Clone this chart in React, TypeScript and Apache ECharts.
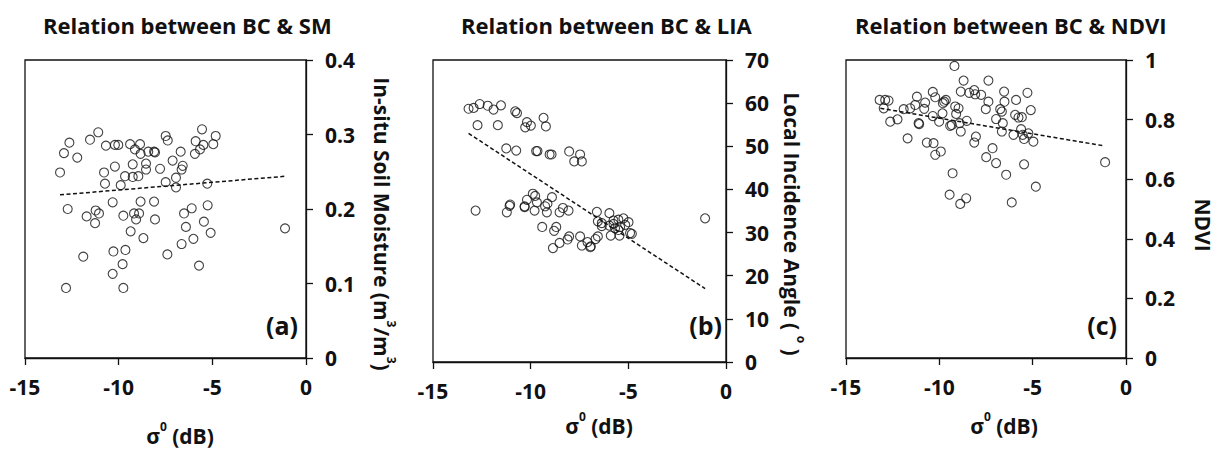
import React, { useEffect, useRef } from "react";
import * as echarts from "echarts";

const FONT = "'Open Sans', 'Noto Sans', sans-serif";

const titles = ["Relation between BC & SM", "Relation between BC & LIA", "Relation between BC & NDVI"];
const panelLabels = ["(a)", "(b)", "(c)"];

// Panel (a): sigma0 (dB) vs in-situ soil moisture
const smPoints: [number, number][] = [
  [-13.13, 0.249], [-12.92, 0.275], [-12.63, 0.289], [-12.21, 0.269], [-11.53, 0.293], [-11.09, 0.303],
  [-10.68, 0.285], [-10.2, 0.286], [-10.02, 0.286], [-9.39, 0.287], [-8.86, 0.287], [-9.13, 0.28],
  [-8.83, 0.274], [-8.42, 0.277], [-8.11, 0.277], [-8.06, 0.276], [-7.49, 0.298], [-7.38, 0.292],
  [-6.69, 0.277], [-7.12, 0.265], [-6.58, 0.258], [-6.64, 0.253], [-5.89, 0.291], [-5.55, 0.307],
  [-5.48, 0.286], [-5.66, 0.28], [-5.93, 0.274], [-4.82, 0.298], [-4.95, 0.287], [-10.78, 0.249],
  [-10.2, 0.257], [-9.25, 0.26], [-8.54, 0.261], [-8.54, 0.253], [-7.79, 0.254], [-9.66, 0.244],
  [-9.25, 0.243], [-8.95, 0.244], [-10.73, 0.234], [-9.89, 0.232], [-7.49, 0.236], [-6.94, 0.242],
  [-6.94, 0.229], [-5.27, 0.234], [-12.72, 0.2], [-11.71, 0.19], [-11.23, 0.198], [-11.05, 0.194],
  [-11.26, 0.181], [-10.32, 0.209], [-9.75, 0.191], [-9.18, 0.194], [-8.91, 0.194], [-9.07, 0.186],
  [-8.83, 0.21], [-8.11, 0.21], [-8.06, 0.186], [-9.36, 0.17], [-8.68, 0.161], [-6.51, 0.194],
  [-6.41, 0.176], [-6.1, 0.201], [-5.45, 0.183], [-5.25, 0.205], [-5.09, 0.168], [-6.64, 0.153],
  [-6.01, 0.16], [-11.89, 0.136], [-10.28, 0.143], [-9.64, 0.145], [-7.4, 0.139], [-9.79, 0.126],
  [-10.32, 0.113], [-5.71, 0.124], [-12.81, 0.094], [-9.75, 0.094], [-1.12, 0.174],
];
const smTrend: [number, number][] = [[-13.13, 0.219], [-1.07, 0.244]];

// Panel (b): sigma0 (dB) vs local incidence angle
const liaPoints: [number, number][] = [
  [-13.18, 58.7], [-12.92, 58.9], [-12.61, 59.8], [-12.2, 59.4], [-11.9, 58.5], [-11.52, 59.5],
  [-12.72, 54.9], [-11.68, 54.9], [-10.79, 58.1], [-10.7, 57.7], [-10.19, 55.6], [-10.28, 54.4],
  [-9.99, 54.8], [-9.34, 56.6], [-9.22, 54.6], [-11.25, 49.5], [-10.74, 49.0], [-9.72, 48.9],
  [-9.65, 48.9], [-9.03, 48.1], [-8.93, 48.1], [-8.03, 48.8], [-7.47, 48.1], [-7.77, 46.5],
  [-7.38, 46.5], [-12.82, 35.1], [-11.22, 34.7], [-11.08, 36.2], [-11.05, 36.5], [-10.31, 36.1],
  [-10.31, 35.9], [-10.19, 37.6], [-9.89, 39.0], [-9.77, 38.5], [-9.68, 37.0], [-9.8, 35.1],
  [-9.26, 36.1], [-9.14, 36.7], [-9.17, 34.7], [-8.91, 38.2], [-8.52, 34.7], [-8.35, 35.7],
  [-8.06, 35.1], [-9.41, 31.3], [-8.69, 31.3], [-8.8, 30.4], [-8.86, 26.4], [-8.52, 27.6],
  [-8.11, 28.4], [-8.03, 29.1], [-7.47, 29.1], [-7.38, 27.0], [-7.09, 27.8], [-6.95, 26.6],
  [-6.92, 26.8], [-6.68, 28.5], [-6.56, 29.1], [-6.61, 34.8], [-6.56, 32.6], [-6.36, 32.2],
  [-6.36, 31.5], [-5.97, 34.5], [-5.97, 31.6], [-5.9, 29.3], [-5.76, 32.0], [-5.68, 31.0],
  [-5.51, 30.6], [-5.51, 33.0], [-5.45, 29.3], [-5.25, 33.3], [-5.16, 31.8], [-4.99, 32.4],
  [-4.91, 29.9], [-4.82, 29.7], [-5.76, 32.8], [-5.42, 31.3], [-1.07, 33.3],
];
const liaTrend: [number, number][] = [[-13.18, 53.0], [-1.07, 17.0]];

// Panel (c): sigma0 (dB) vs NDVI
const ndviPoints: [number, number][] = [
  [-13.2, 0.866], [-12.9, 0.866], [-12.72, 0.864], [-12.98, 0.838], [-12.63, 0.793], [-12.24, 0.801],
  [-11.91, 0.835], [-11.56, 0.838], [-11.7, 0.737], [-11.29, 0.849], [-11.2, 0.877], [-11.11, 0.788],
  [-11.08, 0.785], [-10.81, 0.836], [-10.76, 0.857], [-10.67, 0.723], [-10.35, 0.812], [-10.35, 0.893],
  [-10.22, 0.875], [-10.31, 0.721], [-10.22, 0.682], [-10.01, 0.793], [-9.92, 0.693], [-9.81, 0.855],
  [-9.74, 0.86], [-9.65, 0.866], [-9.83, 0.821], [-9.42, 0.779], [-9.33, 0.782], [-9.19, 0.98],
  [-9.15, 0.844], [-9.1, 0.819], [-8.97, 0.838], [-8.92, 0.788], [-8.85, 0.76], [-8.85, 0.894],
  [-8.7, 0.931], [-8.53, 0.796], [-8.4, 0.89], [-8.13, 0.899], [-8.08, 0.885], [-7.76, 0.883],
  [-8.04, 0.743], [-8.13, 0.723], [-9.29, 0.62], [-9.45, 0.548], [-8.88, 0.517], [-8.56, 0.536],
  [-7.51, 0.835], [-7.37, 0.86], [-7.37, 0.931], [-7.49, 0.674], [-7.15, 0.704], [-6.96, 0.654],
  [-6.96, 0.802], [-6.74, 0.835], [-6.65, 0.827], [-6.6, 0.788], [-6.65, 0.76], [-6.51, 0.86],
  [-6.53, 0.894], [-6.42, 0.615], [-6.03, 0.749], [-6.12, 0.522], [-5.89, 0.866], [-5.94, 0.816],
  [-5.76, 0.807], [-5.58, 0.808], [-5.62, 0.768], [-5.53, 0.749], [-5.46, 0.735], [-5.46, 0.65],
  [-5.28, 0.89], [-5.23, 0.754], [-5.1, 0.832], [-4.96, 0.726], [-4.83, 0.575], [-1.12, 0.657],
];
const ndviTrend: [number, number][] = [[-13.16, 0.838], [-1.18, 0.712]];

const xTickMin = -15;
const xTickMax = 0;
const xTickStep = 5;
const yRanges: [number, number, number][] = [[0, 0.4, 0.1], [0, 70, 10], [0, 1, 0.2]];

const pointSets = [smPoints, liaPoints, ndviPoints];
const trendSets = [smTrend, liaTrend, ndviTrend];

export default function App() {
  const ref = useRef<HTMLDivElement>(null);
  useEffect(() => {
    if (!ref.current) return;
    const chart = echarts.init(ref.current, undefined, { renderer: "svg" });
    const grids = [
      { left: 25, top: 60, width: 281, height: 298 },
      { left: 433, top: 60, width: 293, height: 302 },
      { left: 846, top: 60, width: 280, height: 298 },
    ];
    const axisLine = { show: true, onZero: false, lineStyle: { color: "#111", width: 1.3 } };
    const axisTick = { show: true, inside: false, length: 7, lineStyle: { color: "#111", width: 1.3 } };
    const labelStyle = { color: "#111", fontSize: 21, fontWeight: "bold" as const, fontFamily: FONT };
    const fmt = (v: number) => String(parseFloat(v.toFixed(2)));

    const xNamePos = [[180, 433], [599, 423], [1004, 423]];
    const yNamePos = [[384, 224], [794, 224], [1205, 225]];
    const yNames = [
      "{a|In-situ Soil Moisture (m}{s|3}{a|/m}{s|3}{a|)}",
      "{a|Local Incidence Angle ( }{s|o}{a| )}",
      "{a|NDVI}",
    ];
    const rich = {
      a: { fontSize: 21, fontWeight: "bold", fontFamily: FONT, fill: "#111", color: "#111", lineHeight: 26, verticalAlign: "bottom" },
      s: { fontSize: 12, fontWeight: "bold", fontFamily: FONT, fill: "#111", color: "#111", lineHeight: 26, verticalAlign: "top" },
    };
    const labelPos = [[298, 325], [722, 325], [1117, 325]];

    const graphic: any[] = [];
    for (let i = 0; i < 3; i++) {
      graphic.push({
        type: "text",
        x: xNamePos[i][0],
        y: xNamePos[i][1],
        style: {
          text: "{a|σ}{s|0}{a| (dB)}",
          rich,
          align: "center",
          verticalAlign: "middle",
        },
      });
      graphic.push({
        type: "text",
        x: yNamePos[i][0],
        y: yNamePos[i][1],
        rotation: -Math.PI / 2,
        style: {
          text: yNames[i],
          rich,
          align: "center",
          verticalAlign: "middle",
        },
      });
      graphic.push({
        type: "text",
        x: labelPos[i][0],
        y: labelPos[i][1],
        style: {
          text: panelLabels[i],
          fontSize: 25,
          fontWeight: "bold",
          fontFamily: FONT,
          fill: "#111",
          align: "right",
          verticalAlign: "middle",
        },
      });
    }

    const titleLeft = [43, 461, 855];

    chart.setOption({
      animation: false,
      backgroundColor: "#fff",
      title: titles.map((t, i) => ({
        text: t,
        left: titleLeft[i],
        top: 14,
        padding: 0,
        textStyle: { fontSize: 22, fontWeight: "bold", fontFamily: FONT, color: "#111" },
      })),
      grid: grids.map((g) => ({ ...g, show: true, borderColor: "#111", borderWidth: 1.3, backgroundColor: "transparent" })),
      xAxis: grids.map((_, i) => ({
        gridIndex: i,
        type: "value",
        min: xTickMin,
        max: xTickMax,
        interval: xTickStep,
        position: "bottom",
        axisLine,
        axisTick,
        axisLabel: { ...labelStyle, margin: 18, formatter: fmt },
        splitLine: { show: false },
      })),
      yAxis: grids.map((_, i) => ({
        gridIndex: i,
        type: "value",
        min: yRanges[i][0],
        max: yRanges[i][1],
        interval: yRanges[i][2],
        position: "right",
        axisLine,
        axisTick,
        axisLabel: { ...labelStyle, margin: 19, formatter: fmt },
        splitLine: { show: false },
      })),
      series: [
        ...pointSets.map((pts, i) => ({
          type: "scatter",
          xAxisIndex: i,
          yAxisIndex: i,
          data: pts,
          symbol: "circle",
          symbolSize: 9,
          itemStyle: { color: "rgba(255,255,255,0)", borderColor: "#111", borderWidth: 1.1 },
        })),
        ...trendSets.map((pts, i) => ({
          type: "line",
          xAxisIndex: i,
          yAxisIndex: i,
          data: pts,
          symbol: "none",
          lineStyle: { color: "#111", width: 1.5, type: [4, 2.5] },
        })),
      ],
      graphic,
    });
    return () => chart.dispose();
  }, []);
  return <div ref={ref} style={{ position: "fixed", left: 0, top: 0, width: 1219, height: 449 }} />;
}
